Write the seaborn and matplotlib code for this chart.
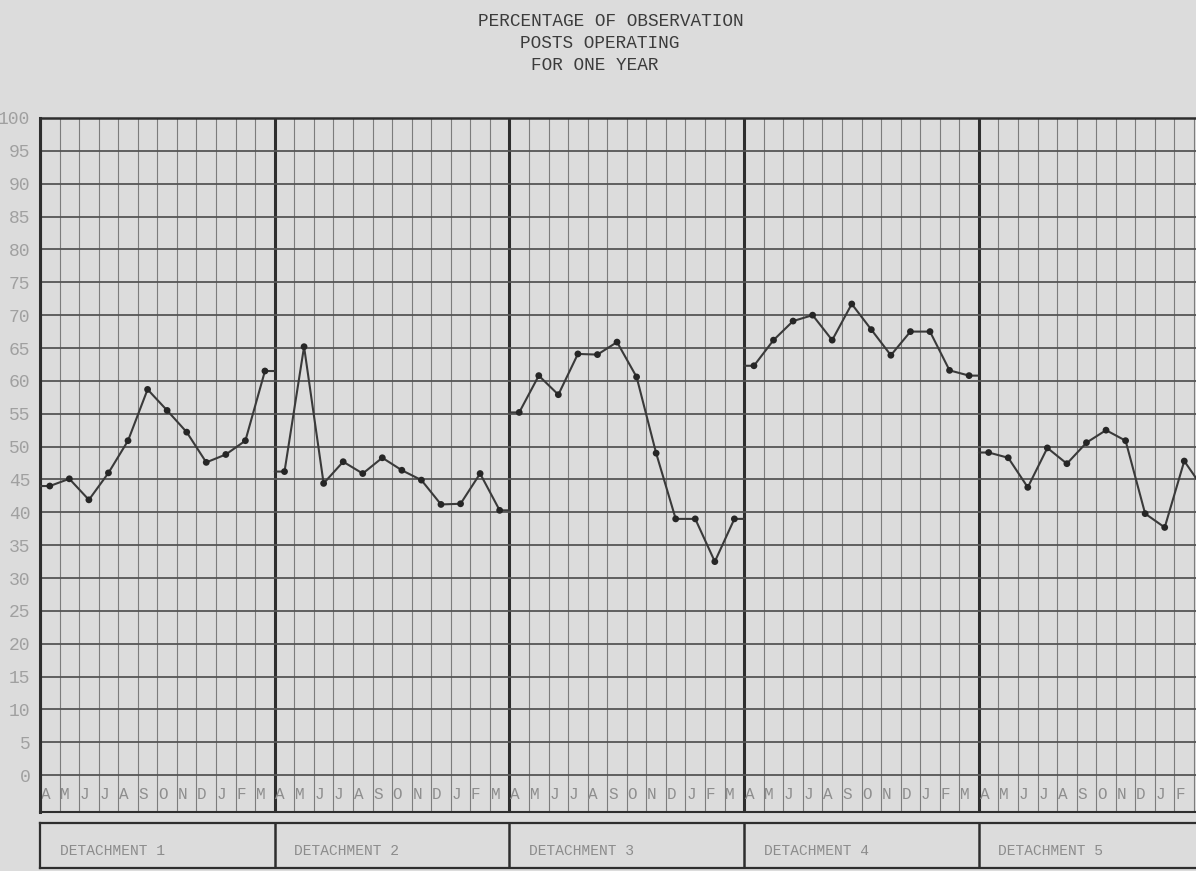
import numpy as np
import pandas as pd
import matplotlib
matplotlib.use("Agg")
import matplotlib.pyplot as plt
import seaborn as sns

# ---------------- data ----------------
title_lines = ["PERCENTAGE OF OBSERVATION", "POSTS OPERATING", "FOR ONE YEAR"]
months = ["A", "M", "J", "J", "A", "S", "O", "N", "D", "J", "F", "M"]
detachments = ["DETACHMENT 1", "DETACHMENT 2", "DETACHMENT 3", "DETACHMENT 4", "DETACHMENT 5"]
y_ticks = list(range(0, 101, 5))

det1 = [44.0, 45.1, 41.9, 46.0, 50.9, 58.7, 55.5, 52.2, 47.6, 48.8, 50.9, 61.5]
det2 = [46.2, 65.2, 44.4, 47.7, 45.9, 48.3, 46.4, 44.9, 41.2, 41.3, 45.9, 40.3]
det3 = [55.2, 60.8, 57.9, 64.1, 64.0, 65.9, 60.6, 49.0, 39.0, 39.0, 32.5, 39.0]
det4 = [62.3, 66.2, 69.1, 70.0, 66.2, 71.7, 67.8, 63.9, 67.5, 67.5, 61.6, 60.8]
det5 = [49.1, 48.3, 43.8, 49.8, 47.4, 50.6, 52.5, 50.9, 39.8, 37.7, 47.8, 43.5]
series = [det1, det2, det3, det4, det5]

# ---------------- build frames ----------------
n_m = len(months)
pts, path = [], []
for d, vals in enumerate(series):
    start = d * n_m
    xs = [start + i + 0.5 for i in range(n_m)]
    for x, v in zip(xs, vals):
        pts.append({"det": d, "x": x, "value": v})
    path.append({"det": d, "x": start, "value": vals[0]})
    for x, v in zip(xs, vals):
        path.append({"det": d, "x": x, "value": v})
    path.append({"det": d, "x": start + n_m, "value": vals[-1]})
pts_df = pd.DataFrame(pts)
path_df = pd.DataFrame(path)

# ---------------- style ----------------
sns.set_theme(style="white")
plt.rcParams["font.family"] = ["Liberation Mono", "DejaVu Sans Mono"]

BG = "#dcdcdc"
HEAVY = "#2e2e2e"
W, H = 1196, 871
fig = plt.figure(figsize=(W / 100, H / 100), dpi=100, facecolor=BG)

xmax = 59.1
ax = fig.add_axes([40 / W, (H - 812) / H, 1156 / W, (812 - 118) / H])
ax.set_facecolor(BG)
ax.set_xlim(0, xmax)
ax.set_ylim(-5.6, 100)

# grid paper
for xv in range(0, int(np.ceil(xmax)) + 1):
    heavy = xv % n_m == 0
    ax.axvline(xv, color=HEAVY if heavy else "#7c7c7c",
               lw=2.2 if heavy else 0.8, zorder=1)
for yv in y_ticks:
    ax.axhline(yv, color="#555555", lw=1.3, zorder=1)

# data
sns.lineplot(data=path_df, x="x", y="value", units="det", estimator=None,
             sort=False, color="#3a3a3a", lw=1.5, ax=ax, legend=False, zorder=3)
sns.scatterplot(data=pts_df, x="x", y="value", color="#262626", s=24,
                edgecolor="none", ax=ax, legend=False, zorder=4)

ax.set_xlabel("")
ax.set_ylabel("")
ax.set_xticks([])
ax.set_yticks(y_ticks)
ax.set_yticklabels([str(v) for v in y_ticks], color="#a0a0a0", fontsize=13)
ax.tick_params(axis="y", length=0, pad=7)

ax.spines["left"].set_color(HEAVY)
ax.spines["left"].set_linewidth(2.2)
ax.spines["top"].set_color(HEAVY)
ax.spines["top"].set_linewidth(1.8)
ax.spines["bottom"].set_color(HEAVY)
ax.spines["bottom"].set_linewidth(1.5)
ax.spines["right"].set_visible(False)

# month labels (only those within the visible sheet)
for d in range(len(detachments)):
    for i, m in enumerate(months):
        xpos = d * n_m + i + 0.28
        if xpos + 0.3 > xmax:
            continue
        ax.text(xpos, -3.0, m, ha="center", va="center",
                fontsize=11.5, color="#8e8e8e", zorder=2)

# detachment box
bx = fig.add_axes([40 / W, 3 / H, 1156 / W, (868 - 823) / H])
bx.set_facecolor(BG)
bx.set_xlim(0, xmax)
bx.set_ylim(0, 1)
bx.set_xticks([])
bx.set_yticks([])
for d in range(1, len(detachments)):
    bx.axvline(d * n_m, color=HEAVY, lw=1.8)
for s in ["top", "bottom", "left"]:
    bx.spines[s].set_color(HEAVY)
    bx.spines[s].set_linewidth(1.6)
bx.spines["right"].set_visible(False)
for d, name in enumerate(detachments):
    bx.text(d * n_m + 1.0, 0.38, name, ha="left", va="center",
            fontsize=10.5, color="#8c8c8c")

# title (typewritten, left-offset lines)
title_x = [478, 520, 531]
title_y = [21, 43, 65]
for t, xp, yp in zip(title_lines, title_x, title_y):
    fig.text(xp / W, 1 - yp / H, t, ha="left", va="center",
             fontsize=12.8, color="#3c3c3c")

fig.savefig("out.png", dpi=100, facecolor=BG)
